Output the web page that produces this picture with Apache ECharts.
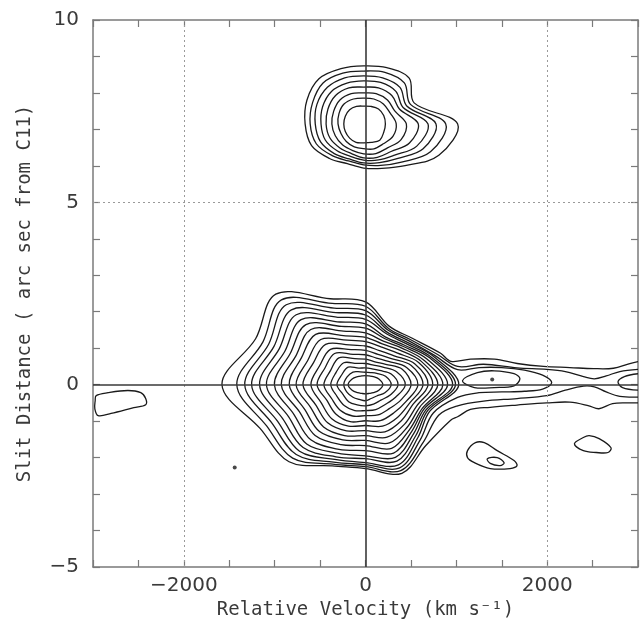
<!DOCTYPE html>
<html>
<head>
<meta charset="utf-8">
<script src="https://cdn.jsdelivr.net/npm/echarts@6/dist/echarts.min.js"></script>
<style>html,body{margin:0;padding:0;background:#fff;}#chart{width:641px;height:630px;}</style>
</head>
<body>
<div id="chart"></div>
<script>
// ---------- axis ticks / labels ----------
const xTickLabels = [-2000, 0, 2000];
const yTickLabels = [-5, 0, 5, 10];
const dottedGuidesX = [-2000, 2000];
const dottedGuidesY = [5];
const solidGuidesX = [0];
const solidGuidesY = [0];

// ---------- contour data ----------
// Ray directions (degrees) along which contour radii were read
const rayAngles = [0, 22.5, 45, 67.5, 90, 112.5, 135, 157.5, 180, 202.5, 225, 247.5, 270, 292.5, 315, 337.5];
// radius unit: 1 = 1 arcsec vertically = 398 km/s horizontally
const VEL_PER_ARCSEC = 398;

// Main component (nucleus) centred at (0 km/s, 0"): rows = ray, columns = contour level 1 (outer) .. 18 (inner)
const mainCenter = [0, 0];
const mainRadii = [
  [null,null,null,2.58,2.49,2.41,2.27,2.14,2.00,1.86,1.73,1.59,1.45,1.26,1.10,0.90,0.71,0.48],
  [2.25,2.16,2.08,2.03,1.97,1.92,1.84,1.75,1.67,1.59,1.48,1.37,1.23,1.10,0.93,0.77,0.60,0.40],
  [1.81,1.75,1.70,1.64,1.59,1.53,1.48,1.42,1.34,1.23,1.12,1.01,0.90,0.79,0.68,0.55,0.44,0.31],
  [1.73,1.67,1.62,1.56,1.51,1.42,1.37,1.29,1.21,1.12,1.01,0.90,0.79,0.68,0.58,0.47,0.36,0.26],
  [2.27,2.15,2.03,1.91,1.79,1.67,1.55,1.42,1.30,1.18,1.06,0.94,0.82,0.70,0.58,0.46,0.34,0.25],
  [2.55,2.41,2.27,2.14,2.00,1.86,1.73,1.59,1.45,1.32,1.18,1.04,0.90,0.77,0.63,0.49,0.38,0.26],
  [3.51,3.29,3.10,2.90,2.71,2.52,2.33,2.14,1.95,1.75,1.56,1.37,1.21,1.04,0.85,0.68,0.49,0.31],
  [3.29,3.07,2.90,2.74,2.58,2.41,2.25,2.08,1.92,1.73,1.56,1.37,1.21,1.04,0.88,0.71,0.55,0.40],
  [3.97,3.56,3.34,3.15,2.93,2.74,2.52,2.33,2.11,1.92,1.73,1.51,1.34,1.15,0.96,0.79,0.60,0.48],
  [3.15,2.96,2.79,2.63,2.47,2.30,2.14,1.97,1.81,1.64,1.48,1.32,1.15,1.01,0.85,0.68,0.55,0.40],
  [2.99,2.85,2.71,2.58,2.44,2.30,2.14,1.97,1.81,1.64,1.48,1.32,1.15,0.99,0.82,0.66,0.49,0.31],
  [2.41,2.36,2.30,2.22,2.14,2.03,1.92,1.78,1.64,1.51,1.37,1.23,1.10,0.93,0.77,0.60,0.44,0.26],
  [2.30,2.25,2.19,2.14,2.03,1.95,1.81,1.67,1.53,1.40,1.26,1.12,0.99,0.85,0.71,0.58,0.44,0.25],
  [2.63,2.55,2.47,2.38,2.27,2.16,2.03,1.89,1.73,1.56,1.40,1.23,1.07,0.90,0.74,0.58,0.41,0.26],
  [2.36,2.25,2.14,2.05,1.97,1.89,1.81,1.73,1.64,1.53,1.40,1.26,1.10,0.93,0.77,0.60,0.44,0.31],
  [2.55,2.19,2.03,1.92,1.86,1.81,1.75,1.70,1.62,1.53,1.42,1.32,1.21,1.07,0.90,0.74,0.58,0.40]
];

// Tail of the lowest main contours toward positive velocity (km/s, arcsec)
const tailTopL1 = [[940,0.64],[1155,0.70],[1420,0.70],[1670,0.58],[1960,0.50],[2250,0.47],[2510,0.44],[2730,0.45],[2900,0.57],[3000,0.63]];
const tailBottomL1 = [[1014,-0.88],[1155,-0.68],[1373,-0.62],[1668,-0.56],[1995,-0.50],[2250,-0.48],[2460,-0.58],[2570,-0.66],[2720,-0.52],[2890,-0.50],[3000,-0.50]];
const tailTopL2 = [[1014,0.50],[1300,0.56],[1668,0.46],[1995,0.42],[2200,0.36],[2400,0.22],[2520,0.16],[2650,0.24],[2800,0.36],[3000,0.42]];
const tailBottomL2 = [[1014,-0.58],[1300,-0.45],[1668,-0.38],[1995,-0.30],[2200,-0.15],[2400,-0.04],[2520,-0.06],[2650,-0.20],[2800,-0.32],[3000,-0.34]];
const tailLoopL3 = [[1014,-0.35],[1250,-0.22],[1500,-0.20],[1750,-0.18],[1950,-0.12],[2050,0.05],[1950,0.26],[1750,0.40],[1500,0.47],[1250,0.47],[1014,0.41]];
const edgeArcL3 = [[3000,0.30],[2850,0.22],[2780,0.08],[2830,-0.08],[3000,-0.15]];
const tailOvalL4 = [[1068,0.11],[1232,0.33],[1417,0.38],[1635,0.30],[1700,0.16],[1635,-0.03],[1417,-0.08],[1199,-0.08]];

// Upper component (C11 region, ~7" up): rows = ray, columns = level 1 (outer) .. 8 (inner)
const upperCenter = [-20, 7.15];
const upperRadii = [
  [2.60,2.27,2.00,1.78,1.51,1.18,0.90,0.60],
  [1.51,1.40,1.29,1.18,1.07,0.93,0.79,0.60],
  [1.78,1.59,1.42,1.26,1.10,0.93,0.77,0.58],
  [1.67,1.53,1.37,1.23,1.07,0.90,0.74,0.52],
  [1.59,1.45,1.32,1.18,1.01,0.85,0.71,0.49],
  [1.64,1.51,1.37,1.21,1.07,0.90,0.74,0.52],
  [1.75,1.59,1.42,1.26,1.10,0.93,0.77,0.55],
  [1.70,1.53,1.40,1.23,1.07,0.90,0.74,0.55],
  [1.62,1.48,1.34,1.18,1.04,0.88,0.71,0.55],
  [1.56,1.42,1.29,1.15,1.01,0.85,0.68,0.55],
  [1.34,1.23,1.15,1.04,0.93,0.82,0.68,0.55],
  [1.18,1.10,1.04,0.96,0.88,0.79,0.68,0.55],
  [1.21,1.12,1.07,0.99,0.93,0.82,0.68,0.52],
  [1.32,1.23,1.15,1.07,0.99,0.88,0.74,0.55],
  [1.62,1.48,1.34,1.21,1.07,0.93,0.77,0.63],
  [2.25,2.00,1.78,1.59,1.37,1.12,0.88,0.60]
];

// Isolated small contours (km/s, arcsec)
const leftOval = [[-2965,-0.30],[-2834,-0.22],[-2616,-0.16],[-2474,-0.22],[-2420,-0.38],[-2420,-0.55],[-2551,-0.63],[-2801,-0.79],[-2943,-0.85],[-2980,-0.66],[-2976,-0.44]];
const lowerRightOuter = [[1123,-1.81],[1210,-1.59],[1308,-1.59],[1450,-1.81],[1635,-2.08],[1668,-2.22],[1591,-2.30],[1373,-2.30],[1199,-2.14],[1123,-2.00]];
const lowerRightInner = [[1341,-2.03],[1450,-2.00],[1526,-2.14],[1482,-2.22],[1373,-2.16]];
const farRightOval = [[2300,-1.62],[2398,-1.45],[2463,-1.40],[2572,-1.48],[2703,-1.73],[2670,-1.86],[2540,-1.86],[2398,-1.81]];
const peakDots = [[1395,0.14],[-1440,-2.27]];

// ---------- build contour paths (data coordinates) ----------
function rayPoint(center, r, deg) {
  const a = deg * Math.PI / 180;
  return [center[0] + VEL_PER_ARCSEC * r * Math.cos(a), center[1] + r * Math.sin(a)];
}
function ringPoints(center, table, level, from, to) {
  const pts = [];
  for (let i = from; i <= to; i++) {
    const r = table[i][level];
    if (r != null) pts.push(rayPoint(center, r, rayAngles[i]));
  }
  return pts;
}
const paths = [];
const last = rayAngles.length - 1;
paths.push({closed:false, pts: tailTopL1.slice().reverse().concat(ringPoints(mainCenter, mainRadii, 0, 1, last), tailBottomL1)});
paths.push({closed:false, pts: tailTopL2.slice().reverse().concat(ringPoints(mainCenter, mainRadii, 1, 1, last), tailBottomL2)});
paths.push({closed:true, pts: ringPoints(mainCenter, mainRadii, 2, 1, last).concat(tailLoopL3)});
for (let k = 3; k < mainRadii[0].length; k++) {
  paths.push({closed:true, pts: ringPoints(mainCenter, mainRadii, k, 0, last)});
}
paths.push({closed:false, pts: edgeArcL3});
paths.push({closed:true, pts: tailOvalL4});
for (let k = 0; k < upperRadii[0].length; k++) {
  paths.push({closed:true, pts: ringPoints(upperCenter, upperRadii, k, 0, last)});
}
[leftOval, lowerRightOuter, lowerRightInner, farRightOval].forEach(p => paths.push({closed:true, pts:p}));

// ---------- chart ----------
const chart = echarts.init(document.getElementById('chart'), null, {renderer:'canvas'});
const FONT = 'DejaVu Sans';
const NAME_FONT = 'DejaVu Sans Mono';
const textColor = '#3a3a3a';
const frameColor = '#7a7a7a';
const fmt = v => (v < 0 ? '\u2212' + Math.abs(v) : String(v));

const guideData = []
  .concat(dottedGuidesX.map(v => ({xAxis: v, lineStyle:{type:[2,3], color:'#9a9a9a', width:1}})))
  .concat(dottedGuidesY.map(v => ({yAxis: v, lineStyle:{type:[2,3], color:'#9a9a9a', width:1}})))
  .concat(solidGuidesX.map(v => ({xAxis: v, lineStyle:{type:'solid', color:'#3a3a3a', width:1.6}})))
  .concat(solidGuidesY.map(v => ({yAxis: v, lineStyle:{type:'solid', color:'#3a3a3a', width:1.6}})));

const baseX = {
  type:'value', min:-3000, max:3000, interval:500,
  axisLine:{show:true, onZero:false, lineStyle:{color:frameColor, width:1.5}},
  axisTick:{show:true, inside:true, length:7, lineStyle:{color:frameColor, width:1.2}},
  splitLine:{show:false}
};
const baseY = {
  type:'value', min:-5, max:10, interval:1,
  axisLine:{show:true, onZero:false, lineStyle:{color:frameColor, width:1.5}},
  axisTick:{show:true, inside:true, length:7, lineStyle:{color:frameColor, width:1.2}},
  splitLine:{show:false}
};

chart.setOption({
  animation:false,
  backgroundColor:'#ffffff',
  grid:{left:93, top:20, width:549, height:547, containLabel:false},
  xAxis:[
    Object.assign({}, baseX, {
      position:'bottom',
      axisLabel:{show:true, margin:9, color:textColor, fontFamily:FONT, fontSize:20,
        formatter: v => xTickLabels.indexOf(v) >= 0 ? fmt(v) : ''},
      name:'Relative Velocity (km s\u207B\u00B9)', nameLocation:'middle', nameGap:30,
      nameTextStyle:{color:textColor, fontFamily:NAME_FONT, fontSize:19}
    }),
    Object.assign({}, baseX, {position:'top', axisLabel:{show:false}})
  ],
  yAxis:[
    Object.assign({}, baseY, {
      position:'left',
      axisLabel:{show:true, margin:14, color:textColor, fontFamily:FONT, fontSize:20,
        formatter: v => yTickLabels.indexOf(v) >= 0 ? fmt(v) : ''},
      name:'Slit Distance ( arc sec from C11)', nameLocation:'middle', nameGap:58, nameRotate:90,
      nameTextStyle:{color:textColor, fontFamily:NAME_FONT, fontSize:19}
    }),
    Object.assign({}, baseY, {position:'right', axisLabel:{show:false}})
  ],
  series:[
    {
      type:'custom', xAxisIndex:0, yAxisIndex:0, clip:true, silent:true,
      data: paths.map((p, i) => [0, 0, i]),
      encode:{x:0, y:1},
      renderItem: function (params, api) {
        const p = paths[params.dataIndex];
        const pts = p.pts.map(q => api.coord(q));
        return {
          type: p.closed ? 'polygon' : 'polyline',
          shape:{points:pts, smooth:0.35},
          style:{fill:null, stroke:'#1a1a1a', lineWidth:1.3}
        };
      },
      markLine:{silent:true, symbol:'none', label:{show:false}, data:guideData}
    },
    {
      type:'scatter', xAxisIndex:0, yAxisIndex:0, silent:true,
      symbol:'circle', symbolSize:4, itemStyle:{color:'#1a1a1a'},
      data: peakDots
    }
  ]
});
</script>
</body>
</html>
